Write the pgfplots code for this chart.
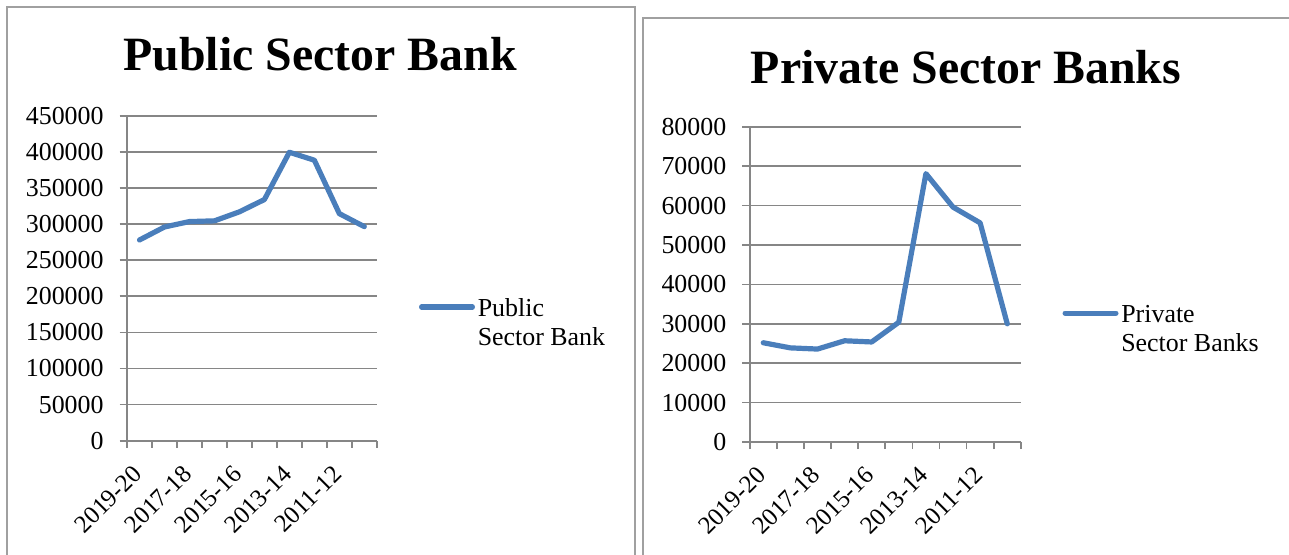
\documentclass[border=0pt]{standalone}
\usepackage{fontspec}
\setmainfont{Liberation Serif}
\usepackage{graphicx}
\usepackage{pgfplots}
\pgfplotsset{compat=1.18}
\definecolor{lineblue}{HTML}{4A7EBB}
\definecolor{gridgray}{HTML}{868686}
\definecolor{bordergray}{HTML}{A0A0A0}

\pgfplotstableread{
x y
0.5 278000
1.5 296000
2.5 303500
3.5 304500
4.5 317000
5.5 334000
6.5 399500
7.5 388500
8.5 314500
9.5 296500
}\publicdata

\pgfplotstableread{
x y
0.5 25200
1.5 23900
2.5 23600
3.5 25700
4.5 25400
5.5 30400
6.5 68100
7.5 59600
8.5 55600
9.5 30000
}\privatedata

\pgfplotsset{
  panel/.style={
    scale only axis,
    anchor=south west,
    xmin=0, xmax=10,
    ymin=0,
    axis x line*=bottom, axis y line*=left,
    axis line style={gridgray, line width=0.8bp},
    xtick={0.5,2.5,4.5,6.5,8.5},
    xticklabels={2019-20,2017-18,2015-16,2013-14,2011-12},
    major x tick style={draw=none},
    minor xtick={0,1,...,10},
    minor x tick style={gridgray, line width=0.8bp},
    minor tick length=3.5bp,
    major tick length=3.7bp,
    tick align=outside,
    ytick style={gridgray, line width=0.8bp},
    ymajorgrids,
    grid style={gridgray, line width=0.8bp},
    scaled y ticks=false,
    /pgf/number format/assume math mode=true,
    yticklabel style={/pgf/number format/fixed, /pgf/number format/1000 sep={}, xshift=-4.5bp, font=\fontsize{13}{15}\selectfont},
    tick label style={text=black},
    xticklabel style={font=\fontsize{12.5}{15}\selectfont, xshift=-4bp, yshift=-3bp, rotate=45, anchor=north east},
    legend style={draw=none, fill=none, anchor=west, inner sep=0pt,
      nodes={inner sep=0pt},
      font=\fontsize{13}{14.5}\selectfont, column sep=1.4bp},
    legend cell align=left,
    legend image code/.code={\draw[#1, line cap=round] (0bp,0bp) -- (25.4bp,0bp);},
  },
  bankline/.style={lineblue, line width=2.6bp, line cap=round, line join=round},
}

\begin{document}
\begin{tikzpicture}
\useasboundingbox (0,0) rectangle (644.5bp,277.5bp);
\draw[bordergray, line width=1bp] (3.25bp,-5bp) -- (3.25bp,274bp) -- (317.5bp,274bp) -- (317.5bp,-5bp);
\draw[bordergray, line width=1bp] (321.5bp,-5bp) -- (321.5bp,268.65bp) -- (650bp,268.65bp);

\node[anchor=base, font=\bfseries\fontsize{24}{28}\selectfont] at (160bp,242.1bp) {Public Sector Bank};
\node[anchor=base, font=\bfseries\fontsize{24}{28}\selectfont] at (483bp,235.9bp) {Private Sector Banks};

\begin{axis}[panel,
  at={(63.5bp,57.15bp)}, width=124.9bp, height=162.45bp,
  ymax=450000, ytick={0,50000,...,450000},
  legend style={at={(1.1674,0.4115)}},
]
\addplot[bankline] table[x=x,y=y]{\publicdata};
\addlegendentry{\raisebox{0pt}[11bp][0pt]{\begin{tabular}[t]{@{}l@{}}Public\\Sector Bank\end{tabular}}}
\end{axis}

\begin{axis}[panel,
  at={(374.85bp,56.45bp)}, width=135.55bp, height=157.7bp,
  ymax=80000, ytick={0,10000,...,80000},
  legend style={at={(1.1524,0.409)}},
]
\addplot[bankline] table[x=x,y=y]{\privatedata};
\addlegendentry{\raisebox{0pt}[11bp][0pt]{\begin{tabular}[t]{@{}l@{}}Private\\Sector Banks\end{tabular}}}
\end{axis}
\end{tikzpicture}
\end{document}
